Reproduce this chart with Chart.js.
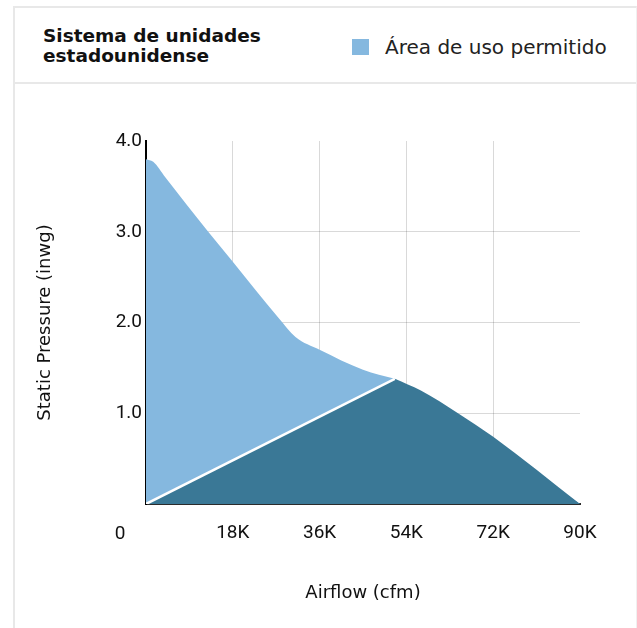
<!DOCTYPE html>
<html>
<head>
<meta charset="utf-8">
<script src="https://cdn.jsdelivr.net/npm/chart.js@4.4.1/dist/chart.umd.min.js"></script>
<style>
  html, body { margin: 0; padding: 0; background: #fff; }
  body { width: 637px; height: 628px; overflow: hidden; position: relative; font-family: "DejaVu Sans", sans-serif; }
  .card { position: absolute; left: 13px; top: 6px; width: 621px; height: 640px;
          border-left: 2px solid #e8e8e8; border-top: 2px solid #e8e8e8; border-right: 1px solid #f0f0f0; }
  .header { position: relative; height: 74px; border-bottom: 2px solid #e8e8e8; }
  .title { position: absolute; left: 28px; top: 18px; font-weight: bold; font-size: 18.5px; line-height: 20px; color: #111; }
  .legend { position: absolute; left: 337px; top: 27px; font-size: 20px; color: #222; display: flex; align-items: center; }
  .legend .box { width: 17px; height: 16px; background: #85b8df; margin-right: 16px; }
  .plot { position: absolute; left: 15px; top: 84px; width: 622px; height: 544px; }
</style>
</head>
<body>
<div class="card">
  <div class="header">
    <div class="title">Sistema de unidades<br>estadounidense</div>
    <div class="legend"><span class="box"></span><span>Área de uso permitido</span></div>
  </div>
</div>
<div class="plot"><canvas id="airflow-chart" width="622" height="544"></canvas></div>
<script>
// upper edge of the permitted area (cfm, inwg)
const allowedX = [0, 1500, 4000, 12900, 18000, 27500, 31000, 36000, 45000, 51600];
const allowedY = [3.80, 3.77, 3.60, 3.0, 2.67, 2.05, 1.84, 1.70, 1.48, 1.38];
// white ridge: straight line from origin to the peak
const ridgeX = [0, 51600];
const ridgeY = [0, 1.38];
// dark region: triangle under the ridge, then the falling curve on top
const triX = [0, 51600, 90000];
const triY = [0, 1.38, 0];
const fallX = [51600, 57000, 64700, 72000, 90000];
const fallY = [1.38, 1.25, 1.0, 0.74, 0];
const xTicks = [0, 18000, 36000, 54000, 72000, 90000];
const yTicks = [0, 1, 2, 3, 4];

const LIGHT = '#85b8df';
const DARK = '#3a7896';
const tickFont = { family: 'Roboto', size: 19 };
const titleFont = { family: 'DejaVu Sans', size: 18 };

function pts(xs, ys) { return xs.map((x, i) => ({ x: x, y: ys[i] })); }

// the "0" under the corner sits left of the axis, not under it
const zeroLabel = {
  id: 'zeroLabel',
  afterDraw(chart) {
    const ctx = chart.ctx;
    const xs = chart.scales.x;
    ctx.save();
    ctx.font = '19px Roboto';
    ctx.fillStyle = '#111';
    ctx.textAlign = 'center';
    ctx.textBaseline = 'middle';
    ctx.fillText('0', xs.getPixelForValue(xTicks[0]) - 26, chart.chartArea.bottom + 30);
    ctx.restore();
  }
};

var ctx = document.getElementById('airflow-chart').getContext('2d');
const airflowChart = new Chart(ctx, {
  type: 'line',
  data: {
    datasets: [{
        label: 'ridge',
        data: pts(ridgeX, ridgeY),
        borderWidth: 2.5,
        borderColor: '#ffffff',
        fill: false,
        pointRadius: 0,
        tension: 0
      }, {
        label: 'fall',
        data: pts(fallX, fallY),
        borderWidth: 0,
        borderColor: DARK,
        backgroundColor: DARK,
        fill: 'origin',
        pointRadius: 0,
        cubicInterpolationMode: 'monotone'
      }, {
        label: 'rise',
        data: pts(triX, triY),
        borderWidth: 0,
        borderColor: DARK,
        backgroundColor: DARK,
        fill: 'origin',
        pointRadius: 0,
        tension: 0
      }, {
        label: 'Área de uso permitido',
        data: pts(allowedX, allowedY),
        borderWidth: 0,
        borderColor: LIGHT,
        backgroundColor: LIGHT,
        fill: 'origin',
        pointRadius: 0,
        cubicInterpolationMode: 'monotone'
      }]
  },
  options: {
    responsive: false,
    animation: false,
    layout: { padding: { top: 57, right: 57, left: 0, bottom: 0 } },
    plugins: {
      legend: { display: false },
      tooltip: { enabled: false }
    },
    scales: {
      x: {
        type: 'linear',
        min: 0,
        max: 90000,
        z: 1,
        afterFit: function(scale) { scale.height = 124; },
        afterBuildTicks: function(scale) { scale.ticks = xTicks.map(v => ({ value: v })); },
        border: { color: '#2b2b2b', width: 2 },
        grid: {
          drawTicks: false,
          color: function(c) { return (c.tick && (c.tick.value === 0 || c.tick.value === 90000)) ? 'rgba(0,0,0,0)' : 'rgba(0,0,0,0.15)'; }
        },
        ticks: {
          padding: 18,
          color: '#111',
          font: tickFont,
          maxRotation: 0,
          callback: function(v) { return v === 0 ? '' : (v / 1000) + 'K'; }
        },
        title: {
          display: true,
          text: 'Airflow (cfm)',
          color: '#111',
          font: titleFont,
          padding: { top: 0, bottom: 24 }
        }
      },
      y: {
        type: 'linear',
        min: 0,
        max: 4,
        z: 1,
        afterFit: function(scale) { scale.width = 131; },
        afterBuildTicks: function(scale) { scale.ticks = yTicks.map(v => ({ value: v })); },
        border: { color: '#000', width: 2 },
        grid: {
          drawTicks: false,
          color: function(c) { return (c.tick && (c.tick.value === 0 || c.tick.value === 4)) ? 'rgba(0,0,0,0)' : 'rgba(0,0,0,0.15)'; }
        },
        ticks: {
          padding: 4,
          color: '#111',
          font: tickFont,
          callback: function(v) { return v === 0 ? '' : v.toFixed(1); }
        },
        title: {
          display: true,
          text: 'Static Pressure (inwg)',
          color: '#111',
          font: titleFont,
          padding: { top: 20, bottom: 0 }
        }
      }
    }
  },
  plugins: [zeroLabel]
});
</script>
</body>
</html>
